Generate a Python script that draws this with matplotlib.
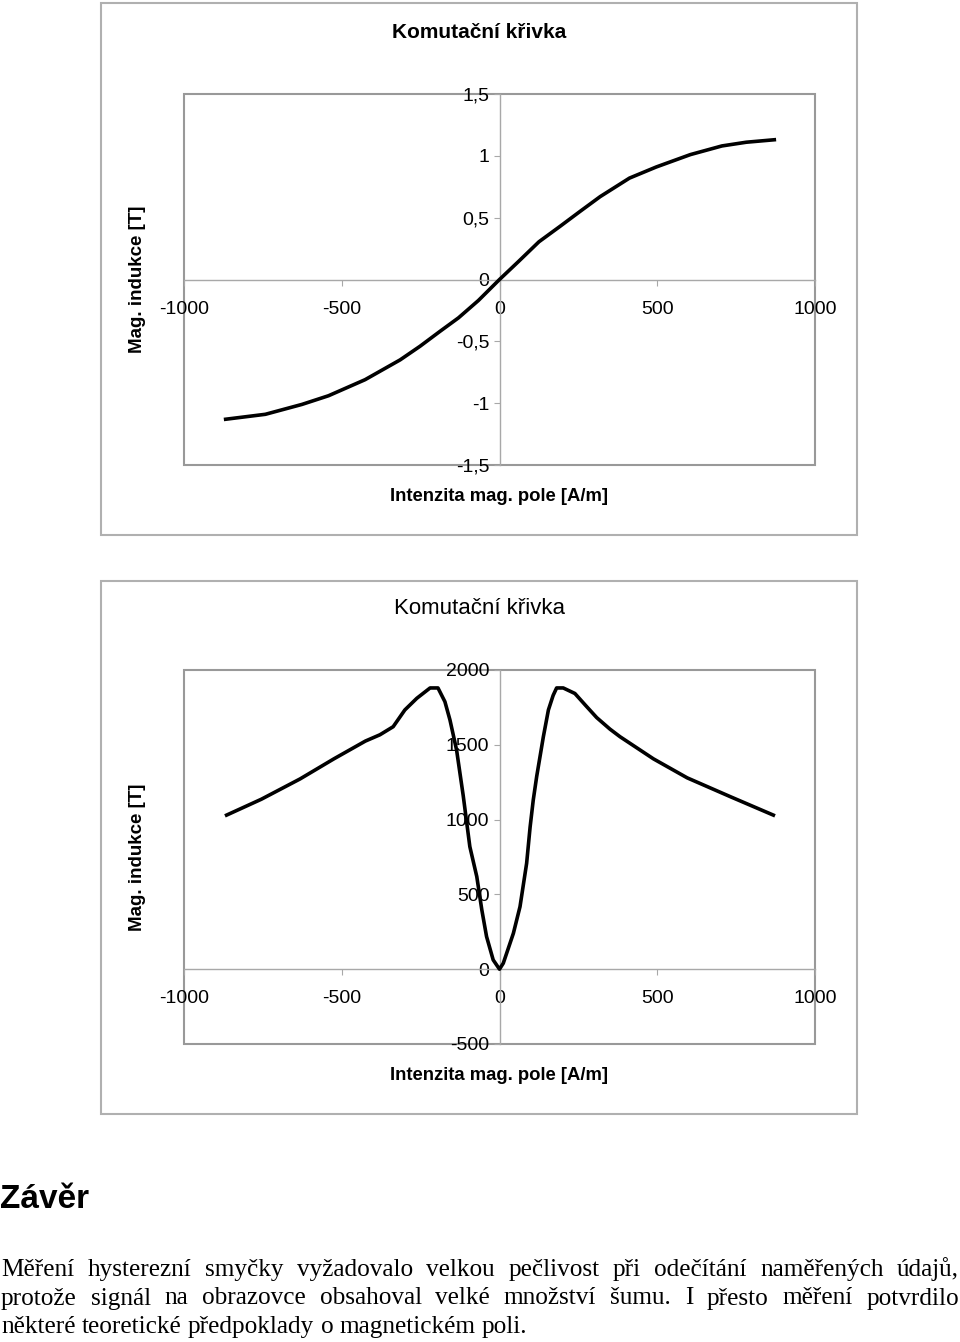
import matplotlib
matplotlib.use("Agg")
import matplotlib.pyplot as plt
from matplotlib.patches import Rectangle

plt.rcParams['font.family'] = ['Liberation Sans', 'DejaVu Sans']

W, H = 960, 1342

# komutacni krivka B(H)
H1 = [-868, -742, -626, -542, -426, -315, -252, -189, -130, -67, 0,
      60, 125, 192, 255, 319, 412, 497, 605, 705, 782, 871]
B1 = [-1.13, -1.09, -1.01, -0.94, -0.81, -0.65, -0.54, -0.42, -0.31, -0.17, 0,
      0.145, 0.305, 0.43, 0.55, 0.67, 0.82, 0.91, 1.01, 1.08, 1.11, 1.13]

# druhy graf
H2 = [-865, -755, -632, -525, -425, -379, -337, -300, -262, -220, -195, -173,
      -157, -136, -115, -94, -72, -56, -41, -20, 0, 12, 44, 65, 86, 97, 107,
      118, 139, 155, 170, 181, 202, 239, 273, 308, 350, 382, 488, 595, 733, 868]
B2 = [1030, 1136, 1272, 1406, 1525, 1567, 1621, 1733, 1811, 1880, 1880, 1788,
      1666, 1465, 1160, 819, 619, 396, 218, 62, 0, 40, 240, 418, 708, 950, 1131,
      1290, 1554, 1733, 1830, 1880, 1880, 1843, 1763, 1682, 1605, 1554, 1406, 1279, 1152, 1030]

xticks = [-1000, -500, 0, 500, 1000]
xlabels = ['-1000', '-500', '0', '500', '1000']
yticks1 = [-1.5, -1, -0.5, 0, 0.5, 1, 1.5]
ylabels1 = ['-1,5', '-1', '-0,5', '0', '0,5', '1', '1,5']
yticks2 = [-500, 0, 500, 1000, 1500, 2000]
ylabels2 = ['-500', '0', '500', '1000', '1500', '2000']

title = 'Komutační křivka'
xlab = 'Intenzita mag. pole [A/m]'
ylab = 'Mag. indukce [T]'

heading = 'Závěr'
lines = [
    'Měření hysterezní smyčky vyžadovalo velkou pečlivost při odečítání naměřených údajů,',
    'protože signál na obrazovce obsahoval velké množství šumu. I přesto měření potvrdilo',
    'některé teoretické předpoklady o magnetickém poli.',
]

fig = plt.figure(figsize=(W / 100, H / 100), dpi=100)


def fx(px):
    return px / W


def fy(py):
    return 1 - py / H


def chart(top, bottom, box, hx, by, yt, yl, ylim, title_bold):
    ax = fig.add_axes([fx(184), fy(bottom), fx(815) - fx(184), fy(top) - fy(bottom)])
    ax.plot(hx, by, color='black', lw=2.6, solid_joinstyle='round', zorder=5)
    ax.set_xlim(-1000, 1000)
    ax.set_ylim(*ylim)
    for s in ['top', 'right']:
        ax.spines[s].set_visible(False)
    ax.spines['left'].set_position(('data', 0))
    ax.spines['bottom'].set_position(('data', 0))
    for s in ['left', 'bottom']:
        ax.spines[s].set_color('#a8a8a8')
        ax.spines[s].set_linewidth(1.0)
    ax.add_patch(Rectangle((0, 0), 1, 1, transform=ax.transAxes, fill=False,
                           edgecolor='#999999', lw=1.5, zorder=1, clip_on=False))
    ax.set_xticks(xticks, xlabels)
    ax.set_yticks(yt, yl)
    ax.tick_params(axis='both', direction='out', length=4.3, width=0.8,
                   color='#a8a8a8', labelsize=14)
    ax.tick_params(axis='x', pad=11)
    ax.tick_params(axis='y', pad=3)
    ax.set_facecolor('none')
    # outer chart frame
    fig.add_artist(Rectangle((fx(box[0]), fy(box[3])), fx(box[2]) - fx(box[0]),
                             fy(box[1]) - fy(box[3]), transform=fig.transFigure,
                             fill=False, edgecolor='#b0b0b0', lw=1.5))
    if title_bold:
        fig.text(fx(479), fy(top - 62), title, ha='center', va='center',
                 fontsize=15, fontweight='bold')
    else:
        fig.text(fx(479), fy(top - 62), title, ha='center', va='center',
                 fontsize=16)
    fig.text(fx(499), fy(bottom + 32), xlab, ha='center', va='center',
             fontsize=13.3, fontweight='bold')
    fig.text(fx(137), fy((top + bottom) / 2), ylab, ha='center', va='center',
             rotation=90, fontsize=13.5, fontweight='bold')
    return ax


chart(94, 465, (101, 3, 857, 535), H1, B1, yticks1, ylabels1, (-1.5, 1.5), True)
chart(670, 1044, (101, 581, 857, 1114), H2, B2, yticks2, ylabels2, (-500, 2000), False)

fig.text(fx(0), fy(1208), heading, ha='left', va='baseline', fontsize=24,
         fontweight='bold')

# zarovnani do bloku
renderer = fig.canvas.get_renderer()
serif = ['Liberation Serif', 'DejaVu Serif']
fs = 18.2
baselines = [1276, 1304.5, 1333]
for i, line in enumerate(lines):
    words = line.split(' ')
    texts = [fig.text(0, fy(baselines[i]), w, ha='left', va='baseline',
                      fontsize=fs, family=serif) for w in words]
    widths = [t.get_window_extent(renderer).width for t in texts]
    if i < len(lines) - 1:
        gap = (958 - sum(widths)) / (len(words) - 1)
    else:
        sp = fig.text(0, 0, 'a a', fontsize=fs, family=serif)
        sa = fig.text(0, 0, 'aa', fontsize=fs, family=serif)
        gap = sp.get_window_extent(renderer).width - sa.get_window_extent(renderer).width
        sp.remove()
        sa.remove()
    x = 1
    for t, wd in zip(texts, widths):
        t.set_x(fx(x))
        x += wd + gap

fig.savefig('out.png', dpi=100)
